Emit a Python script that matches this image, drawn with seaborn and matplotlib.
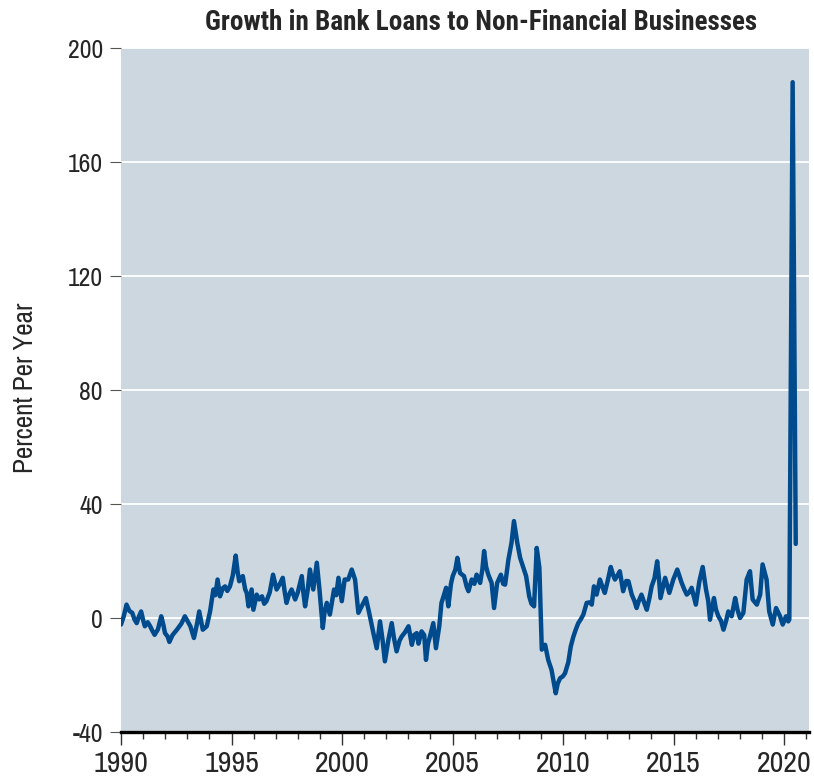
import matplotlib
matplotlib.use("Agg")
import matplotlib.pyplot as plt
import seaborn as sns
import pandas as pd
from matplotlib.ticker import MultipleLocator

years = [
    1990.00, 1990.12, 1990.25, 1990.38, 1990.51, 1990.61, 1990.71, 1990.81, 1990.91, 1991.01,
    1991.08, 1991.21, 1991.32, 1991.42, 1991.52, 1991.67, 1991.82, 1991.92, 1991.99, 1992.11,
    1992.19, 1992.33, 1992.53, 1992.73, 1992.89, 1993.04, 1993.14, 1993.30, 1993.44, 1993.54,
    1993.62, 1993.70, 1993.88, 1994.03, 1994.18, 1994.27, 1994.37, 1994.48, 1994.61, 1994.71,
    1994.81, 1994.93, 1995.06, 1995.19, 1995.28, 1995.35, 1995.51, 1995.62, 1995.69, 1995.77,
    1995.91, 1995.99, 1996.14, 1996.26, 1996.38, 1996.48, 1996.58, 1996.73, 1996.88, 1997.04,
    1997.19, 1997.32, 1997.41, 1997.49, 1997.59, 1997.72, 1997.88, 1998.00, 1998.18, 1998.25,
    1998.33, 1998.45, 1998.55, 1998.70, 1998.86, 1998.98, 1999.13, 1999.21, 1999.31, 1999.45,
    1999.64, 1999.74, 1999.84, 1999.99, 2000.12, 2000.28, 2000.44, 2000.59, 2000.74, 2000.89,
    2001.08, 2001.23, 2001.42, 2001.57, 2001.72, 2001.84, 2001.94, 2002.10, 2002.25, 2002.35,
    2002.47, 2002.60, 2002.70, 2002.85, 2003.01, 2003.16, 2003.26, 2003.38, 2003.46, 2003.60,
    2003.72, 2003.80, 2003.89, 2003.98, 2004.13, 2004.25, 2004.40, 2004.50, 2004.61, 2004.71,
    2004.81, 2004.93, 2005.01, 2005.13, 2005.22, 2005.34, 2005.52, 2005.64, 2005.72, 2005.87,
    2005.99, 2006.09, 2006.25, 2006.35, 2006.43, 2006.52, 2006.62, 2006.77, 2006.88, 2007.02,
    2007.19, 2007.29, 2007.38, 2007.53, 2007.67, 2007.78, 2007.86, 2007.93, 2008.06, 2008.18,
    2008.33, 2008.47, 2008.57, 2008.69, 2008.81, 2008.93, 2009.04, 2009.19, 2009.33, 2009.48,
    2009.67, 2009.76, 2009.87, 2009.99, 2010.09, 2010.24, 2010.35, 2010.47, 2010.58, 2010.69,
    2010.80, 2010.92, 2011.07, 2011.21, 2011.30, 2011.40, 2011.52, 2011.67, 2011.78, 2011.89,
    2012.02, 2012.16, 2012.27, 2012.35, 2012.47, 2012.57, 2012.72, 2012.86, 2012.96, 2013.11,
    2013.23, 2013.33, 2013.43, 2013.55, 2013.69, 2013.79, 2013.91, 2014.01, 2014.14, 2014.26,
    2014.34, 2014.41, 2014.62, 2014.81, 2014.99, 2015.17, 2015.37, 2015.49, 2015.60, 2015.71,
    2015.82, 2016.01, 2016.17, 2016.32, 2016.47, 2016.57, 2016.65, 2016.83, 2016.92, 2017.03,
    2017.15, 2017.26, 2017.38, 2017.48, 2017.63, 2017.79, 2017.89, 2018.01, 2018.16, 2018.31,
    2018.46, 2018.58, 2018.77, 2018.92, 2019.03, 2019.21, 2019.33, 2019.49, 2019.64, 2019.82,
    2019.94, 2020.09, 2020.19, 2020.24, 2020.39, 2020.53,
]

growth = [
    -2.3, 0.5, 4.7, 2.5, 1.8, -0.5, -1.8, 0.5, 2.3, -1.0,
    -2.9, -1.5, -2.9, -4.5, -5.9, -4.0, 0.6, -2.5, -5.3, -6.5,
    -8.4, -6.0, -4.1, -2.0, 0.6, -1.5, -2.9, -7.0, -2.0, 2.3,
    -1.0, -4.1, -2.9, 2.3, 10.0, 8.0, 13.5, 7.6, 10.5, 11.1,
    9.5, 11.1, 15.0, 21.9, 16.0, 12.9, 14.7, 10.0, 8.8, 4.1,
    10.0, 2.9, 8.2, 6.5, 7.6, 5.0, 5.9, 9.0, 15.2, 10.0,
    12.0, 14.1, 9.0, 5.3, 8.0, 10.0, 6.5, 9.0, 14.7, 9.0,
    4.1, 10.0, 17.0, 10.0, 19.4, 10.0, -3.5, 2.0, 5.3, 1.2,
    10.0, 8.0, 14.1, 5.9, 13.5, 13.5, 17.0, 13.5, 1.8, 4.1,
    7.0, 1.8, -5.3, -10.6, -1.2, -8.0, -15.2, -7.6, -1.8, -7.0,
    -11.7, -8.0, -6.5, -5.0, -2.9, -9.4, -6.0, -5.3, -9.0, -4.7,
    -6.0, -14.7, -9.0, -6.5, -1.8, -10.6, -2.9, 5.3, 8.0, 10.6,
    4.1, 12.0, 14.7, 17.0, 21.1, 15.8, 14.7, 11.0, 9.4, 13.5,
    12.0, 15.2, 12.3, 17.0, 23.5, 18.0, 15.2, 12.3, 3.5, 12.3,
    15.2, 12.0, 11.7, 20.5, 26.4, 34.0, 30.0, 26.4, 21.1, 18.2,
    14.7, 7.6, 5.0, 4.1, 24.6, 17.6, -11.1, -9.4, -14.7, -18.2,
    -26.4, -23.0, -21.1, -20.5, -19.4, -15.5, -10.0, -6.5, -4.0, -1.8,
    -0.5, 1.2, 5.3, 5.5, 4.7, 11.1, 8.2, 13.5, 11.0, 8.8,
    13.0, 17.9, 15.0, 13.5, 15.0, 16.4, 9.4, 13.0, 12.9, 8.2,
    6.0, 3.5, 6.0, 8.2, 5.0, 2.9, 7.0, 11.1, 14.0, 19.9,
    14.0, 7.0, 14.1, 8.8, 13.5, 17.0, 12.3, 10.0, 8.2, 9.0,
    10.6, 4.7, 12.9, 17.9, 10.0, 6.0, -0.6, 7.0, 3.0, 0.6,
    -1.0, -4.1, -1.0, 2.3, 0.6, 7.0, 3.0, 0.0, 1.8, 13.5,
    16.4, 6.5, 4.7, 8.2, 18.8, 13.5, 2.3, -2.3, 3.5, 0.6,
    -2.3, 0.6, -1.2, -0.5, 188.0, 26.0,
]

y_ticks = [-40, 0, 40, 80, 120, 160, 200]
x_ticks = [1990, 1995, 2000, 2005, 2010, 2015, 2020]

title = "Growth in Bank Loans to Non-Financial Businesses"
ylabel = "Percent Per Year"

df = pd.DataFrame({"year": years, "growth": growth})

sns.set_theme(style="white")
narrow = ["Liberation Sans Narrow", "Archivo Narrow", "DejaVu Sans"]
plt.rcParams["font.family"] = narrow
title_fonts = ["Liberation Sans Narrow", "Roboto Condensed", "Archivo Narrow", "DejaVu Sans"]

fig = plt.figure(figsize=(8.14, 7.8), dpi=100)
ax = fig.add_axes([121 / 814, 1 - 732 / 780, (809 - 121) / 814, (732 - 48) / 780])
ax.set_facecolor("#CDD7E0")

sns.lineplot(data=df, x="year", y="growth", ax=ax, color="#004B8D", linewidth=3.2)

ax.set_xlim(1990, 2021.13)
ax.set_ylim(-40, 200)
ax.set_yticks(y_ticks)
ax.set_yticklabels([str(v) for v in y_ticks], fontsize=18.5)
ax.set_xticks(x_ticks)
ax.set_xticklabels([str(v) for v in x_ticks], fontsize=21.5)
ax.xaxis.set_minor_locator(MultipleLocator(1))

ax.grid(axis="y", color="white", linewidth=1.3)
ax.set_axisbelow(True)

for s in ["left", "right", "top"]:
    ax.spines[s].set_visible(False)
ax.spines["bottom"].set_color("black")
ax.spines["bottom"].set_linewidth(2.4)

ax.tick_params(axis="y", which="major", direction="out", length=8, width=0.8,
               color="#555555", pad=5, left=True)
ax.tick_params(axis="x", which="major", direction="out", length=9, width=1.0,
               color="#333333", pad=4, bottom=True)
ax.tick_params(axis="x", which="minor", direction="out", length=5, width=1.0,
               color="#333333", bottom=True)

ax.set_xlabel("")
ax.set_ylabel("")
fig.text(26 / 814, 1 - 388 / 780, ylabel, rotation=90, ha="center", va="center",
         fontsize=19.5)
fig.text(481 / 814, 1 - 22 / 780, title, ha="center", va="center",
         fontsize=19.5, fontweight="bold", family=title_fonts)

fig.savefig("out.png", dpi=100)
